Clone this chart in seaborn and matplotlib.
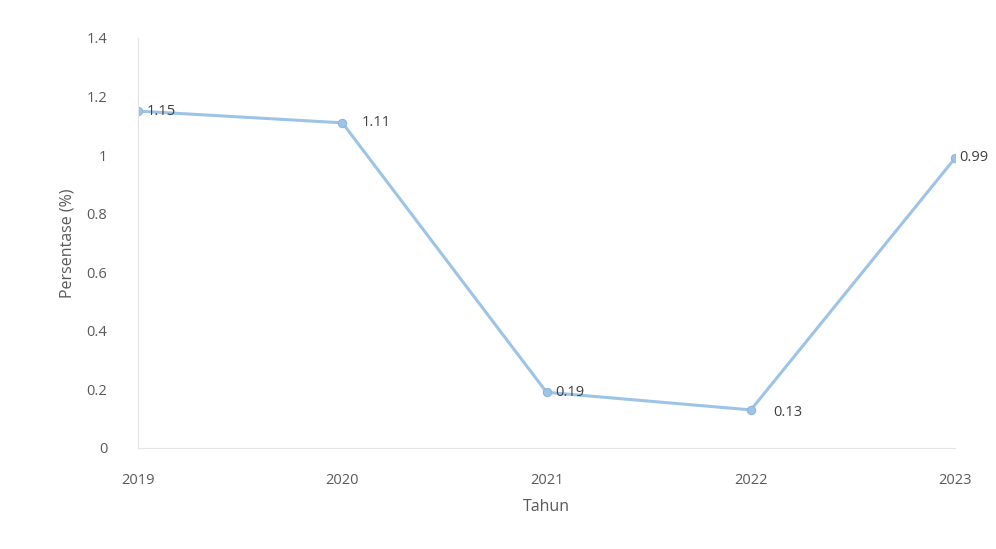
import matplotlib
matplotlib.use('Agg')
import matplotlib.pyplot as plt
import seaborn as sns
import pandas as pd

years = ['2019', '2020', '2021', '2022', '2023']
persen = [1.15, 1.11, 0.19, 0.13, 0.99]
yticks = [0, 0.2, 0.4, 0.6, 0.8, 1, 1.2, 1.4]
ytick_labels = ['0', '0.2', '0.4', '0.6', '0.8', '1', '1.2', '1.4']

df = pd.DataFrame({'Tahun': years, 'Persen': persen})

sns.set_style('white')
plt.rcParams['font.family'] = ['Open Sans', 'DejaVu Sans']

fig = plt.figure(figsize=(9.96, 5.49), dpi=100)
ax = fig.add_axes([0.1386, 0.184, 0.8204, 0.747])
x = list(range(len(years)))
sns.lineplot(x=x, y=df['Persen'], ax=ax, color='#9DC3E6', linewidth=2.2,
             marker='o', markersize=6, markeredgecolor='#8FB4DD', markerfacecolor='#9DC3E6')

ax.set_xlim(0, len(years) - 1)
ax.set_ylim(0, 1.4)
ax.set_xticks(x)
ax.set_xticklabels(years)
ax.set_yticks(yticks)
ax.set_yticklabels(ytick_labels)
ax.tick_params(axis='y', colors='#595959', labelsize=10.5, length=0, pad=22)
ax.tick_params(axis='x', colors='#595959', labelsize=10.5, length=0, pad=18)
ax.set_xlabel('Tahun', color='#595959', fontsize=11.5, labelpad=8)
ax.set_ylabel('Persentase (%)', color='#595959', fontsize=11.5, labelpad=8)

for s in ['top', 'right']:
    ax.spines[s].set_visible(False)
ax.spines['left'].set_color('#E4E4E4')
ax.spines['bottom'].set_color('#E4E4E4')

offsets = [(6, 0), (14, 0), (6, 0), (16, -2), (3, 0)]
for xi, v, off in zip(x, persen, offsets):
    ax.annotate(f'{v:.2f}', (xi, v), xytext=off, textcoords='offset points',
                color='#404040', fontsize=10.5, va='center', ha='left',
                annotation_clip=False)

fig.savefig('out.png', dpi=100)
